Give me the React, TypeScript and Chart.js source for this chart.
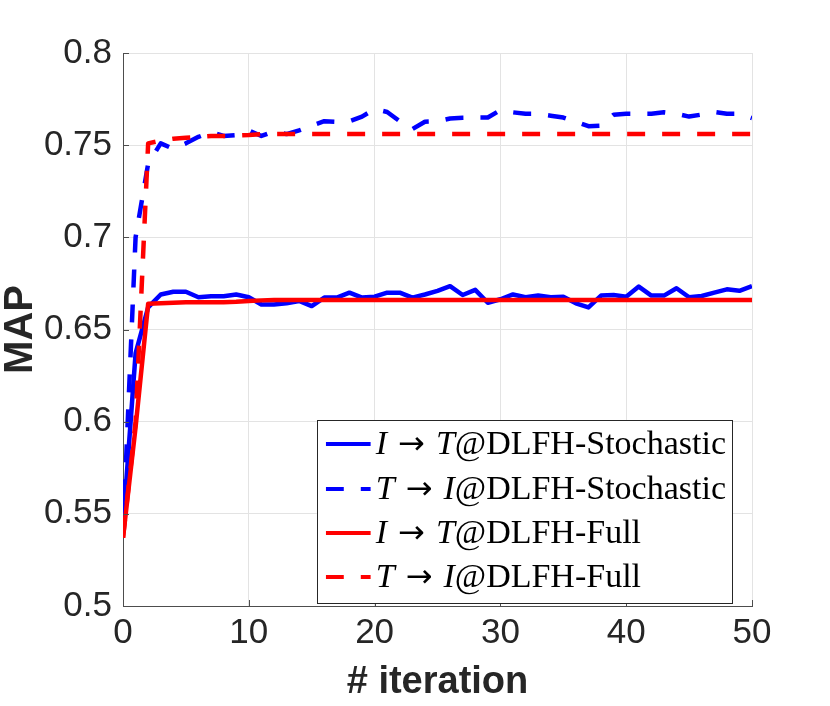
import { useEffect, useRef } from "react"
import { Chart, registerables } from "chart.js"

Chart.register(...registerables)

const iterations = [
  0, 1, 2, 3, 4, 5, 6, 7, 8, 9, 10, 11, 12, 13, 14, 15, 16, 17, 18, 19, 20, 21, 22, 23, 24, 25,
  26, 27, 28, 29, 30, 31, 32, 33, 34, 35, 36, 37, 38, 39, 40, 41, 42, 43, 44, 45, 46, 47, 48, 49, 50,
]

// I -> T @ DLFH-Stochastic (solid blue)
const stochasticIT = [
  0.543, 0.637, 0.662, 0.669, 0.6705, 0.6705, 0.6675, 0.668, 0.668, 0.669, 0.6675, 0.6636, 0.6636,
  0.6642, 0.6655, 0.6627, 0.6673, 0.6673, 0.67, 0.6673, 0.6678, 0.67, 0.67, 0.6673, 0.669, 0.671,
  0.6735, 0.6687, 0.6715, 0.6645, 0.6664, 0.669, 0.6675, 0.6684, 0.6675, 0.6678, 0.6642, 0.662,
  0.6684, 0.6687, 0.6678, 0.6733, 0.6684, 0.6684, 0.6724, 0.6675, 0.6682, 0.67, 0.6718, 0.671, 0.6735,
]

// T -> I @ DLFH-Stochastic (dashed blue)
const stochasticTI = [
  0.54, 0.7, 0.74, 0.751, 0.748, 0.751, 0.7545, 0.757, 0.755, 0.7555, 0.758, 0.755, 0.7575, 0.756,
  0.758, 0.7606, 0.763, 0.7627, 0.763, 0.7655, 0.7696, 0.768, 0.763, 0.7587, 0.7627, 0.763, 0.7645,
  0.7649, 0.765, 0.765, 0.769, 0.7678, 0.767, 0.767, 0.766, 0.765, 0.7627, 0.7603, 0.7606, 0.7665,
  0.767, 0.767, 0.767, 0.7678, 0.767, 0.7655, 0.7666, 0.768, 0.767, 0.767, 0.7647,
]

// I -> T @ DLFH-Full (solid red)
const fullIT = [
  0.537, 0.597, 0.664, 0.6642, 0.6645, 0.6648, 0.6648, 0.6648, 0.6648, 0.665, 0.6655, 0.6658, 0.666,
  0.666, 0.666, 0.666, 0.666, 0.666, 0.666, 0.666, 0.666, 0.666, 0.666, 0.666, 0.666, 0.666, 0.666,
  0.666, 0.666, 0.666, 0.666, 0.666, 0.666, 0.666, 0.666, 0.666, 0.666, 0.666, 0.666, 0.666, 0.666,
  0.666, 0.666, 0.666, 0.666, 0.666, 0.666, 0.666, 0.666, 0.666, 0.666,
]

// T -> I @ DLFH-Full (dashed red)
const fullTI = [
  0.537, 0.6, 0.751, 0.7525, 0.7535, 0.754, 0.7545, 0.755, 0.755, 0.7552, 0.7555, 0.756, 0.756, 0.756,
  0.756, 0.756, 0.756, 0.756, 0.756, 0.756, 0.756, 0.756, 0.756, 0.756, 0.756, 0.756, 0.756, 0.756,
  0.756, 0.756, 0.756, 0.756, 0.756, 0.756, 0.756, 0.756, 0.756, 0.756, 0.756, 0.756, 0.756, 0.756,
  0.756, 0.756, 0.756, 0.756, 0.756, 0.756, 0.756, 0.756, 0.756,
]

const xTicks = [0, 10, 20, 30, 40, 50]
const yTicks = [0.5, 0.55, 0.6, 0.65, 0.7, 0.75, 0.8]

const BLUE = "#0000ff"
const RED = "#ff0000"
const DASH = [18, 17]
const SANS = "'Liberation Sans', Arial, sans-serif"
const SERIF = "'Liberation Serif', 'Times New Roman', serif"

// legend label pieces: [text, style]  m = math italic, a = arrow, t = text
const legendItems: { parts: [string, string][]; color: string; dashed: boolean }[] = [
  { parts: [["I", "m"], ["→", "a"], ["T", "m"], ["@DLFH-Stochastic", "t"]], color: BLUE, dashed: false },
  { parts: [["T", "m"], ["→", "a"], ["I", "m"], ["@DLFH-Stochastic", "t"]], color: BLUE, dashed: true },
  { parts: [["I", "m"], ["→", "a"], ["T", "m"], ["@DLFH-Full", "t"]], color: RED, dashed: false },
  { parts: [["T", "m"], ["→", "a"], ["I", "m"], ["@DLFH-Full", "t"]], color: RED, dashed: true },
]

const toPoints = (ys: number[]) => iterations.map((x, i) => ({ x, y: ys[i] }))

// inward tick marks and the boxed legend inside the plot
const decorPlugin = {
  id: "decor",
  afterDraw(chart: Chart) {
    const { ctx, chartArea, scales } = chart
    const { left, right, bottom } = chartArea
    ctx.save()
    ctx.strokeStyle = "#4d4d4d"
    ctx.lineWidth = 1
    ctx.beginPath()
    xTicks.forEach((v) => {
      const px = Math.round(scales.x.getPixelForValue(v)) + 0.5
      ctx.moveTo(px, bottom)
      ctx.lineTo(px, bottom - 6)
    })
    yTicks.forEach((v) => {
      const py = Math.round(scales.y.getPixelForValue(v)) + 0.5
      ctx.moveTo(left, py)
      ctx.lineTo(left + 6, py)
    })
    ctx.stroke()

    // legend
    const fonts: Record<string, string> = {
      m: `italic 34px ${SERIF}`,
      a: `32px 'DejaVu Sans', sans-serif`,
      t: `34px ${SERIF}`,
    }
    const gapAfter: Record<string, number> = { m: 0, a: 11, t: 0 }
    const partW = (t: string, s: string) => {
      ctx.font = fonts[s]
      return ctx.measureText(t).width
    }
    const rowWidth = (parts: [string, string][]) =>
      parts.reduce((w, [t, s], i) => w + partW(t, s) + gapAfter[s] + (i === 0 ? 11 : 0), 0)
    const widths = legendItems.map((it) => rowWidth(it.parts))
    const sample = 45
    const boxW = 9 + sample + 5 + Math.max(...widths) + 6
    const boxH = 183
    const boxR = right - 20
    const boxB = bottom - 3
    const boxL = boxR - boxW
    const boxT = boxB - boxH
    ctx.fillStyle = "#ffffff"
    ctx.fillRect(boxL, boxT, boxW, boxH)
    ctx.strokeStyle = "#262626"
    ctx.lineWidth = 1
    ctx.strokeRect(Math.round(boxL) + 0.5, Math.round(boxT) + 0.5, Math.round(boxW), Math.round(boxH))

    const rowYs = [444, 489, 533, 577].map((y) => boxT + (y - 420))
    legendItems.forEach((it, i) => {
      const y = rowYs[i]
      ctx.save()
      ctx.beginPath()
      ctx.rect(boxL + 9, y - 5, sample, 10)
      ctx.clip()
      ctx.strokeStyle = it.color
      ctx.lineWidth = 4
      ctx.lineCap = "butt"
      ctx.setLineDash(it.dashed ? DASH : [])
      ctx.beginPath()
      ctx.moveTo(boxL + 9, y)
      ctx.lineTo(boxL + 9 + sample, y)
      ctx.stroke()
      ctx.restore()

      let x = boxL + 9 + sample + 5
      ctx.fillStyle = "#000000"
      ctx.textBaseline = "middle"
      ctx.textAlign = "left"
      it.parts.forEach(([t, s], j) => {
        ctx.font = fonts[s]
        ctx.fillText(t, x, s === "a" ? y + 2 : y + 1)
        x += ctx.measureText(t).width + gapAfter[s] + (j === 0 ? 11 : 0)
      })
    })
    ctx.restore()
  },
}

export default function App() {
  const chartRef = useRef<HTMLCanvasElement>(null)
  const chartInstance = useRef<Chart | null>(null)

  useEffect(() => {
    if (!chartRef.current) return

    if (chartInstance.current) {
      chartInstance.current.destroy()
    }

    const ctx = chartRef.current.getContext("2d")
    if (!ctx) return

    chartInstance.current = new Chart(ctx, {
      type: "line",
      data: {
        datasets: [
          {
            label: "I → T@DLFH-Stochastic",
            data: toPoints(stochasticIT),
            borderColor: BLUE,
            borderWidth: 4.5,
            order: 1,
          },
          {
            label: "T → I@DLFH-Stochastic",
            data: toPoints(stochasticTI),
            borderColor: BLUE,
            borderWidth: 4.5,
            borderDash: DASH,
            order: 1,
          },
          {
            label: "I → T@DLFH-Full",
            data: toPoints(fullIT),
            borderColor: RED,
            borderWidth: 4.5,
            order: 0,
          },
          {
            label: "T → I@DLFH-Full",
            data: toPoints(fullTI),
            borderColor: RED,
            borderWidth: 4.5,
            borderDash: DASH,
            order: 0,
          },
        ],
      },
      options: {
        responsive: false,
        animation: false,
        layout: { padding: { left: 0, top: 53, right: 78, bottom: 0 } },
        elements: {
          point: { radius: 0, hoverRadius: 0 },
          line: { tension: 0, fill: false, borderCapStyle: "butt", borderJoinStyle: "round" },
        },
        scales: {
          x: {
            type: "linear",
            min: 0,
            max: 50,
            afterBuildTicks: (s) => {
              s.ticks = xTicks.map((value) => ({ value }))
            },
            afterFit: (s) => {
              s.height = 100
            },
            grid: { color: "#e3e3e3", lineWidth: 1, drawTicks: false },
            border: { color: "#4d4d4d", width: 1 },
            ticks: {
              padding: 10,
              color: "#262626",
              maxRotation: 0,
              font: { family: SANS, size: 35, lineHeight: 1 },
            },
            title: {
              display: true,
              text: "# iteration",
              color: "#262626",
              font: { family: SANS, size: 38, weight: "bold", lineHeight: 1 },
              padding: { top: 0, bottom: 4 },
            },
          },
          y: {
            type: "linear",
            min: 0.5,
            max: 0.8,
            afterBuildTicks: (s) => {
              s.ticks = yTicks.map((value) => ({ value }))
            },
            afterFit: (s) => {
              s.width = 123
            },
            grid: { color: "#e3e3e3", lineWidth: 1, drawTicks: false },
            border: { color: "#4d4d4d", width: 1 },
            ticks: {
              padding: 11,
              color: "#262626",
              font: { family: SANS, size: 35, lineHeight: 1 },
              callback: (value) => String(value),
            },
            title: {
              display: true,
              text: "MAP",
              color: "#262626",
              font: { family: SANS, size: 40, weight: "bold", lineHeight: 1 },
              padding: { top: 1, bottom: 0 },
            },
          },
        },
        plugins: {
          legend: { display: false },
          tooltip: { enabled: false },
        },
      },
      plugins: [decorPlugin],
    })

    return () => {
      if (chartInstance.current) {
        chartInstance.current.destroy()
      }
    }
  }, [])

  return (
    <div style={{ position: "absolute", left: 0, top: 0, width: 830, height: 706, background: "#fff" }}>
      <canvas ref={chartRef} width={830} height={706} style={{ width: 830, height: 706 }} />
    </div>
  )
}
